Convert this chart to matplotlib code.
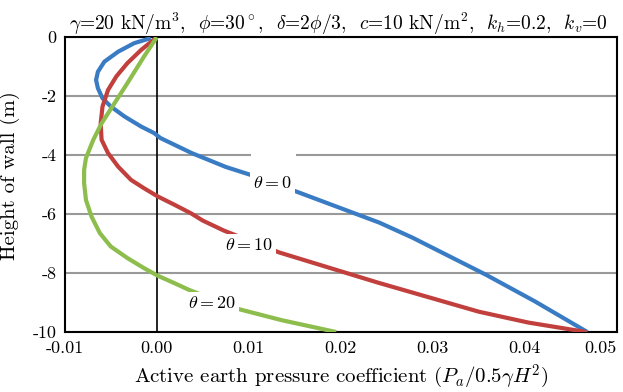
import numpy as np
import matplotlib
matplotlib.use("Agg")
import matplotlib.pyplot as plt

plt.rcParams["font.family"] = "serif"
plt.rcParams["font.serif"] = ["cmr10"]
plt.rcParams["mathtext.fontset"] = "cm"
plt.rcParams["axes.formatter.use_mathtext"] = True

# theta = 0
x0 = [-0.00065, -0.00245, -0.0042, -0.0057, -0.0064, -0.0066, -0.0064, -0.0059, -0.005,
      -0.0035, -0.0017, -0.0003, 0.0004, 0.0038, 0.0075, 0.0103, 0.0147, 0.0242, 0.0278,
      0.0358, 0.0411, 0.0468]
y0 = [-0.03, -0.2, -0.49, -0.83, -1.17, -1.45, -1.73, -2.07, -2.35,
      -2.69, -3.03, -3.25, -3.42, -3.93, -4.4, -4.68, -5.18, -6.29, -6.8,
      -8.06, -8.96, -10]

# theta = 10
x10 = [0.0, -0.0017, -0.0032, -0.0044, -0.0053, -0.0059, -0.0061, -0.006, -0.0053,
       -0.0042, -0.0028, -0.0014, 0.0001, 0.0019, 0.0037, 0.0050, 0.0073, 0.0133,
       0.0241, 0.035, 0.0404, 0.0467]
y10 = [0, -0.43, -0.88, -1.33, -1.79, -2.35, -2.92, -3.48, -3.93,
       -4.39, -4.84, -5.12, -5.4, -5.68, -5.97, -6.22, -6.56, -7.3,
       -8.33, -9.31, -9.68, -10]

# theta = 20
x20 = [0.0, -0.0014, -0.0032, -0.0046, -0.006, -0.0069, -0.0077, -0.0079, -0.0079,
       -0.0077, -0.0071, -0.0062, -0.005, -0.0032, -0.0014, 0.0001, 0.0019, 0.0035,
       0.0085, 0.0136, 0.0195]
y20 = [0, -0.66, -1.56, -2.24, -2.92, -3.48, -4.1, -4.5, -4.95,
       -5.52, -6.08, -6.64, -7.1, -7.49, -7.83, -8.09, -8.34, -8.57,
       -9.19, -9.6, -10]

xticks = [-0.01, 0.0, 0.01, 0.02, 0.03, 0.04, 0.05]
xticklabels = ["-0.01", "0.00", "0.01", "0.02", "0.03", "0.04", "0.05"]
yticks = [0, -2, -4, -6, -8, -10]
yticklabels = ["0", "-2", "-4", "-6", "-8", "-10"]

fig = plt.figure(figsize=(6.23, 3.92), dpi=100)
ax = fig.add_axes([0.104, 0.153, 0.886, 0.752])

ax.plot(x0, y0, color="#3a7cc4", lw=3, zorder=3, solid_capstyle="butt", solid_joinstyle="round")
ax.plot(x10, y10, color="#c1403d", lw=3, zorder=3, solid_capstyle="butt", solid_joinstyle="round")
ax.plot(x20, y20, color="#8dbd4c", lw=3, zorder=3, solid_capstyle="butt", solid_joinstyle="round")

ax.axvline(0, color="black", lw=1.2, zorder=2)

box = dict(facecolor="white", edgecolor="none", pad=2)
ax.text(0.0126, -4.95, r"$\theta=0$", fontsize=13, ha="center", va="center", bbox=box, zorder=4)
ax.text(0.0127, -4.0, r"$\theta=0$", fontsize=13, color="white", ha="center", va="center", bbox=box, zorder=2)
ax.text(0.0100, -7.05, r"$\theta=10$", fontsize=13, ha="center", va="center", bbox=box, zorder=4)
ax.text(0.0060, -9.0, r"$\theta=20$", fontsize=13, ha="center", va="center", bbox=box, zorder=4)

ax.set_xlim(-0.01, 0.05)
ax.set_ylim(-10, 0)
ax.set_xticks(xticks)
ax.set_xticklabels(xticklabels)
ax.get_xticklabels()[-1].set_ha("right")
ax.set_yticks(yticks)
ax.set_yticklabels(yticklabels)
ax.tick_params(length=0, labelsize=13, pad=6)
ax.grid(axis="y", color="#999999", lw=1.5, zorder=1)
ax.set_axisbelow(True)
for s in ax.spines.values():
    s.set_linewidth(1.5)

ax.set_xlabel(r"Active earth pressure coefficient ($P_a/0.5\gamma H^2$)", fontsize=15)
ax.xaxis.set_label_coords(0.5, -0.105)
ax.set_ylabel("Height of wall (m)", fontsize=15)
ax.yaxis.set_label_coords(-0.082, 0.53)
ax.set_title(r"$\gamma$=20 kN/m$^3$,  $\phi$=30$^\circ$,  $\delta$=2$\phi$/3,  $c$=10 kN/m$^2$,  $k_h$=0.2,  $k_v$=0",
             fontsize=14, pad=4, x=0.495)

fig.savefig("out.png", dpi=100)
